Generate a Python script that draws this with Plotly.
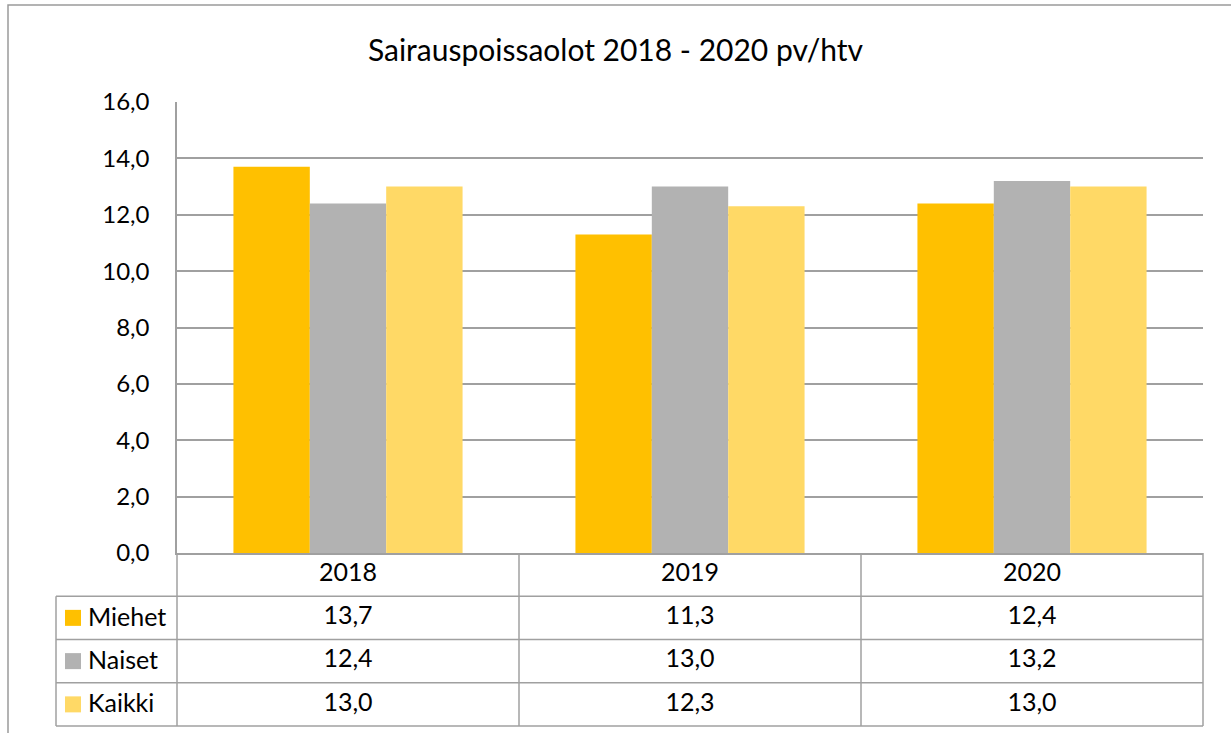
import plotly.graph_objects as go

# ---------------- data ----------------
years = ["2018", "2019", "2020"]
series_names = ["Miehet", "Naiset", "Kaikki"]
miehet = [13.7, 11.3, 12.4]
naiset = [12.4, 13.0, 13.2]
kaikki = [13.0, 12.3, 13.0]
series_values = [miehet, naiset, kaikki]
series_colors = ["#FFC000", "#B2B2B2", "#FFD966"]
y_ticks = [0, 2, 4, 6, 8, 10, 12, 14, 16]
title_text = "Sairauspoissaolot 2018 - 2020 pv/htv"

# ---------------- geometry (pixels) ----------------
W, H = 1231, 733
PL, PR, PT, PB = 177, 1203, 102, 553      # plot area
TL, TB = 56, 726                           # table left / bottom
PAD = 4
cat_px = (PR - PL) / len(years)
row_px = (TB - PB) / 4.0
leg_units = (PL - TL) / cat_px
FONT = "Lato, Calibri, Carlito, sans-serif"
LINE = "#A0A0A0"
TXT = 25

fig = go.Figure()

for name, vals, col in zip(series_names, series_values, series_colors):
    fig.add_trace(go.Bar(x=years, y=vals, name=name, marker=dict(color=col, line=dict(width=0)),
                         xaxis="x", yaxis="y", showlegend=False))

n = len(years)
# table: header years
fig.add_trace(go.Scatter(x=list(range(n)), y=[0.5] * n, text=years, mode="text",
                         textfont=dict(family=FONT, size=TXT, color="black"),
                         xaxis="x2", yaxis="y2", showlegend=False, cliponaxis=False, hoverinfo="skip"))
# table: values
for r, vals in enumerate(series_values):
    fig.add_trace(go.Scatter(x=list(range(n)), y=[r + 1.5] * n,
                             text=[f"{v:.1f}".replace(".", ",") for v in vals], mode="text",
                             textfont=dict(family=FONT, size=TXT, color="black"),
                             xaxis="x2", yaxis="y2", showlegend=False, cliponaxis=False, hoverinfo="skip"))
# legend keys
xl = -0.5 - leg_units
key_x = xl + (73 - TL) / cat_px
fig.add_trace(go.Scatter(x=[key_x] * 3, y=[1.5, 2.5, 3.5], mode="markers",
                         marker=dict(symbol="square", size=16, color=series_colors, line=dict(width=0)),
                         xaxis="x2", yaxis="y2", showlegend=False, cliponaxis=False, hoverinfo="skip"))
annotations = []
for r, name in enumerate(series_names):
    annotations.append(dict(x=xl + (86 - TL) / cat_px, y=r + 1.45, xref="x2", yref="y2",
                            text=name, showarrow=False, xanchor="left", yanchor="middle",
                            font=dict(family=FONT, size=TXT, color="black")))

# table lines
shapes = []
for yy in [1, 2, 3, 4]:
    shapes.append(dict(type="line", xref="x2", yref="y2", x0=xl, x1=n - 0.5, y0=yy, y1=yy,
                       line=dict(color=LINE, width=1.5)))
shapes.append(dict(type="line", xref="x2", yref="y2", x0=xl, x1=xl, y0=1, y1=4,
                   line=dict(color=LINE, width=1.5)))
for xx in [i - 0.5 for i in range(n + 1)]:
    shapes.append(dict(type="line", xref="x2", yref="y2", x0=xx, x1=xx, y0=0, y1=4,
                       line=dict(color=LINE, width=1.5)))
# outer chart border (top and left visible)
shapes.append(dict(type="rect", xref="paper", yref="paper", x0=8 / W, x1=1.05, y0=-0.05, y1=1 - 5 / H,
                   line=dict(color="#9A9A9A", width=1.5), layer="below"))

fig.update_layout(
    template="none",
    width=W, height=H, autosize=False,
    margin=dict(l=0, r=0, t=0, b=0, pad=0),
    paper_bgcolor="white", plot_bgcolor="rgba(0,0,0,0)",
    separators=",.",
    barmode="group", bargap=0.33, bargroupgap=0,
    title=dict(text=title_text, x=0.5, xanchor="center", xref="paper", y=1 - 50 / H, yanchor="middle",
               yref="paper", font=dict(family=FONT, size=30, color="black")),
    xaxis=dict(domain=[PL / W, PR / W], showticklabels=False, showgrid=False, zeroline=False,
               showline=True, linecolor=LINE, linewidth=1.5, fixedrange=True, automargin=False,
               ticks=""),
    yaxis=dict(domain=[1 - PB / H, 1 - PT / H], range=[0, 16], tickvals=y_ticks, tickformat=".1f",
               showgrid=True, gridcolor=LINE, gridwidth=1.5, zeroline=False,
               showline=True, linecolor=LINE, linewidth=1.5, ticks="", ticklabelstandoff=21,
               tickfont=dict(family=FONT, size=24, color="black"), fixedrange=True, automargin=False),
    xaxis2=dict(domain=[(TL - PAD) / W, (PR + PAD) / W],
                range=[xl - PAD / cat_px, n - 0.5 + PAD / cat_px],
                visible=False, fixedrange=True, automargin=False),
    yaxis2=dict(domain=[1 - (TB + PAD) / H, 1 - (PB - PAD) / H],
                range=[4 + PAD / row_px, -PAD / row_px],
                visible=False, fixedrange=True, automargin=False),
    shapes=shapes,
    annotations=annotations,
)

fig.write_html("out.html", config={"displayModeBar": False},
               post_script="document.body.style.margin='0';")
